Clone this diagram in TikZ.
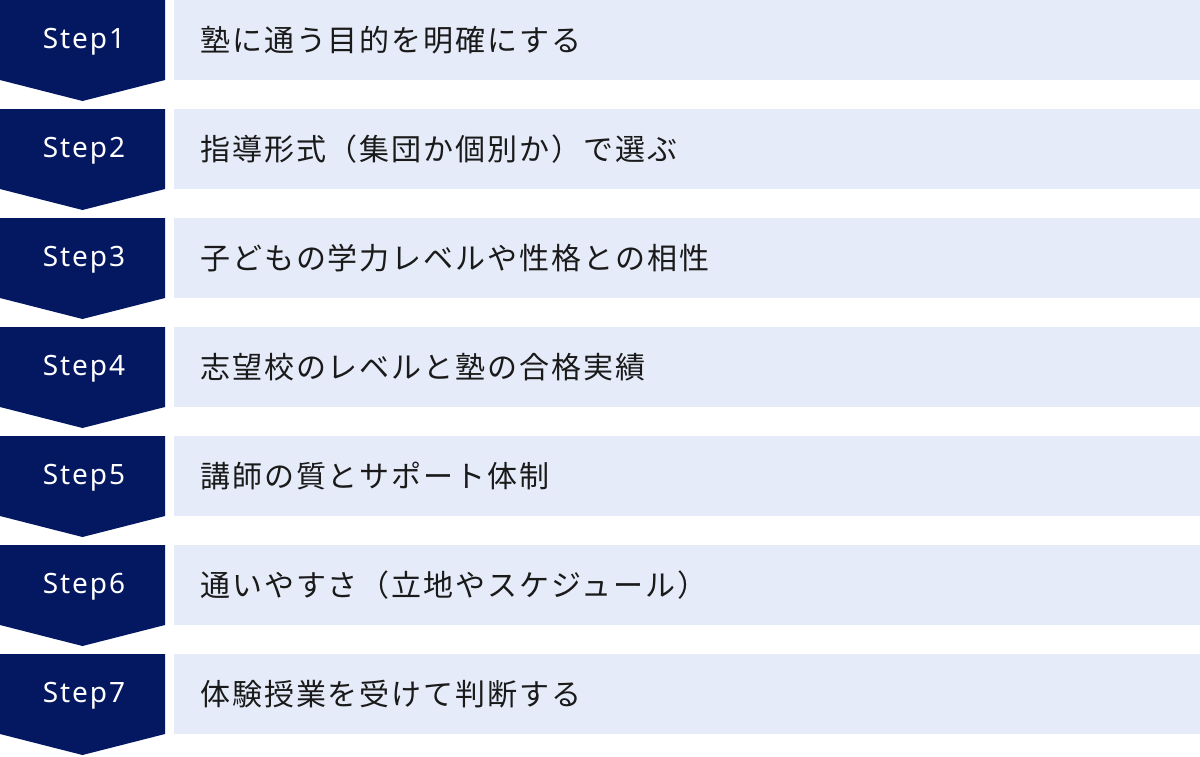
\documentclass[tikz,border=0pt]{standalone}
\usepackage{fontspec}
\setmainfont{Noto Sans}[LetterSpace=7]
\newfontfamily\jpfont{Noto Sans CJK JP}[LetterSpace=6.5]
\definecolor{navy}{HTML}{041862}
\definecolor{lightbg}{HTML}{E5EBF8}
\definecolor{txt}{HTML}{1A1A1A}
\begin{document}
\begin{tikzpicture}[x=1pt,y=-1pt,
  steplabel/.style={text=white,font=\fontsize{28}{32}\selectfont,inner sep=0pt},
  itemtext/.style={text=txt,font=\jpfont\fontsize{30}{34}\selectfont,anchor=west,inner sep=0pt},
  itembox/.style={fill=lightbg},
  arrowbox/.style={fill=navy}]
\useasboundingbox (0,0) rectangle (1200,756);
\foreach \i/\t in {1/塾に通う目的を明確にする,
                   2/指導形式（集団か個別か）で選ぶ,
                   3/子どもの学力レベルや性格との相性,
                   4/志望校のレベルと塾の合格実績,
                   5/講師の質とサポート体制,
                   6/通いやすさ（立地やスケジュール）,
                   7/体験授業を受けて判断する}{
  \pgfmathsetmacro{\y}{(\i-1)*109}
  \fill[arrowbox] (0,\y) -- (165,\y) -- (165,\y+80) -- (82.5,\y+101) -- (0,\y+80) -- cycle;
  \fill[itembox] (174,\y) rectangle (1200,\y+80);
  \node[steplabel] (s\i) at (84,\y+42) {Step\i};
  \node[itemtext] (t\i) at (200,\y+40) {\t};
}
\end{tikzpicture}
\end{document}
